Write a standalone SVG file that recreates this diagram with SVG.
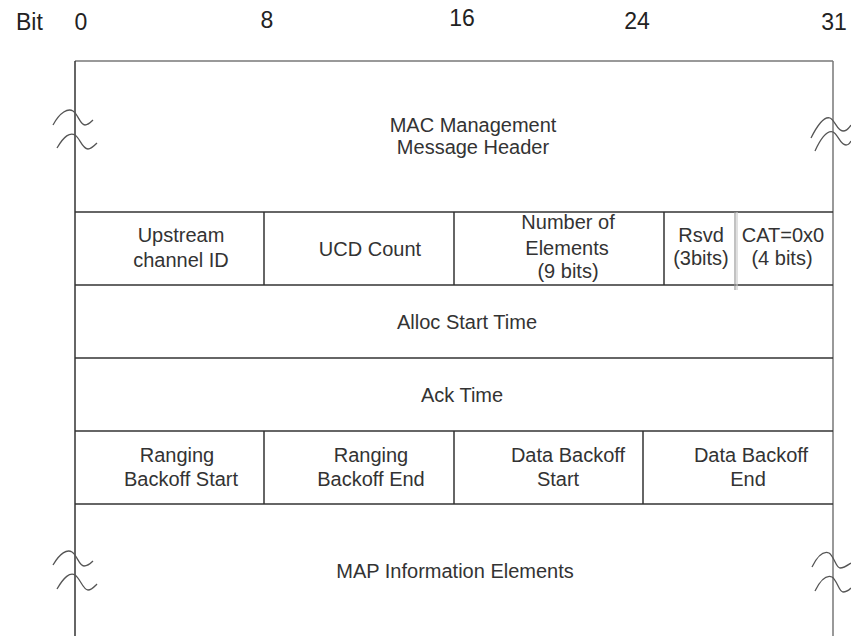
<svg xmlns="http://www.w3.org/2000/svg" width="851" height="636" viewBox="0 0 851 636">
<style>
.hd{font-family:"Liberation Sans",Arial,sans-serif;font-size:23px;fill:#222}
.t{font-family:"Liberation Sans",Arial,sans-serif;font-size:20px;fill:#333;text-anchor:middle}
.ln{stroke:#333;stroke-width:1.5;fill:none}
.lg{stroke:#777;stroke-width:1.5;fill:none}
.sq{stroke:#555;stroke-width:1.3;fill:none}
</style>
<rect width="851" height="636" fill="#fff"/>
<g id="bit-ruler">
<text class="hd" x="16" y="30">Bit</text>
<text class="hd" x="81" y="30" text-anchor="middle">0</text>
<text class="hd" x="267" y="28" text-anchor="middle">8</text>
<text class="hd" x="462" y="26" text-anchor="middle">16</text>
<text class="hd" x="637" y="29" text-anchor="middle">24</text>
<text class="hd" x="834" y="30" text-anchor="middle">31</text>
</g>
<g id="frame">
<line class="lg" x1="75" y1="61" x2="833" y2="61"/>
<line class="ln" x1="75" y1="61" x2="75" y2="636"/>
<line class="lg" x1="833" y1="61" x2="833" y2="636"/>
<line class="ln" x1="75" y1="212" x2="833" y2="212"/>
<line class="ln" x1="75" y1="285" x2="833" y2="285"/>
<line class="ln" x1="75" y1="358" x2="833" y2="358"/>
<line class="ln" x1="75" y1="431" x2="833" y2="431"/>
<line class="ln" x1="75" y1="504" x2="833" y2="504"/>
</g>
<g id="breaks">
<path class="sq" d="M53,125 C60,112 68,108 73,111 C78,114 80,125 85,125 C88,125 90,123 93,120"/>
<path class="sq" d="M57,148 C64,136 70,132 75,135 C80,138 82,149 88,149 C91,149 94,146 97,143"/>
<path class="sq" d="M811,138 C818,124 824,116 830,118 C835,120 837,131 843,131 C846,131 849,128 851,125"/>
<path class="sq" d="M815,151 C821,138 827,130 833,132 C838,134 840,145 846,145 C848,145 850,143 851,141"/>
<path class="sq" d="M53,565 C60,553 67,549 72,552 C77,555 79,566 84,566 C88,566 90,564 93,561"/>
<path class="sq" d="M57,589 C64,577 70,572 75,575 C80,578 83,590 88,590 C92,590 94,587 97,584"/>
<path class="sq" d="M812,567 C818,555 824,551 829,553 C834,556 836,568 840,568 C844,568 848,565 851,563"/>
<path class="sq" d="M815,591 C821,579 827,575 832,577 C837,580 839,592 843,592 C847,592 849,590 851,588"/>
</g>
<g id="mac-header">
<text class="t" x="473" y="132">MAC Management</text>
<text class="t" x="473" y="154">Message Header</text>
</g>
<g id="upstream-channel-id">
<text class="t" x="181" y="242">Upstream</text>
<text class="t" x="181" y="267">channel ID</text>
</g>
<g id="ucd-count">
<line class="ln" x1="264" y1="212" x2="264" y2="285"/>
<text class="t" x="370" y="256">UCD Count</text>
</g>
<g id="number-of-elements">
<line class="ln" x1="454" y1="212" x2="454" y2="285"/>
<text class="t" x="568" y="229">Number of</text>
<text class="t" x="567" y="255">Elements</text>
<text class="t" x="568" y="278">(9 bits)</text>
</g>
<g id="rsvd">
<line class="ln" x1="664" y1="212" x2="664" y2="285"/>
<text class="t" x="701" y="242">Rsvd</text>
<text class="t" x="701" y="265">(3bits)</text>
</g>
<g id="cat">
<line x1="735" y1="212" x2="735" y2="290" stroke="#999" stroke-width="1.2"/>
<line x1="737" y1="212" x2="737" y2="290" stroke="#ccc" stroke-width="1.2"/>
<text class="t" x="783" y="242">CAT=0x0</text>
<text class="t" x="782" y="265">(4 bits)</text>
</g>
<g id="alloc-start-time">
<text class="t" x="467" y="329">Alloc Start Time</text>
</g>
<g id="ack-time">
<text class="t" x="462" y="402">Ack Time</text>
</g>
<g id="ranging-backoff-start">
<text class="t" x="177" y="462">Ranging</text>
<text class="t" x="181" y="486">Backoff Start</text>
</g>
<g id="ranging-backoff-end">
<line class="ln" x1="264" y1="431" x2="264" y2="504"/>
<text class="t" x="371" y="462">Ranging</text>
<text class="t" x="371" y="486">Backoff End</text>
</g>
<g id="data-backoff-start">
<line class="ln" x1="454" y1="431" x2="454" y2="504"/>
<text class="t" x="568" y="462">Data Backoff</text>
<text class="t" x="558" y="486">Start</text>
</g>
<g id="data-backoff-end">
<line class="ln" x1="643" y1="431" x2="643" y2="504"/>
<text class="t" x="751" y="462">Data Backoff</text>
<text class="t" x="748" y="486">End</text>
</g>
<g id="map-information-elements">
<text class="t" x="455" y="578">MAP Information Elements</text>
</g>
</svg>
